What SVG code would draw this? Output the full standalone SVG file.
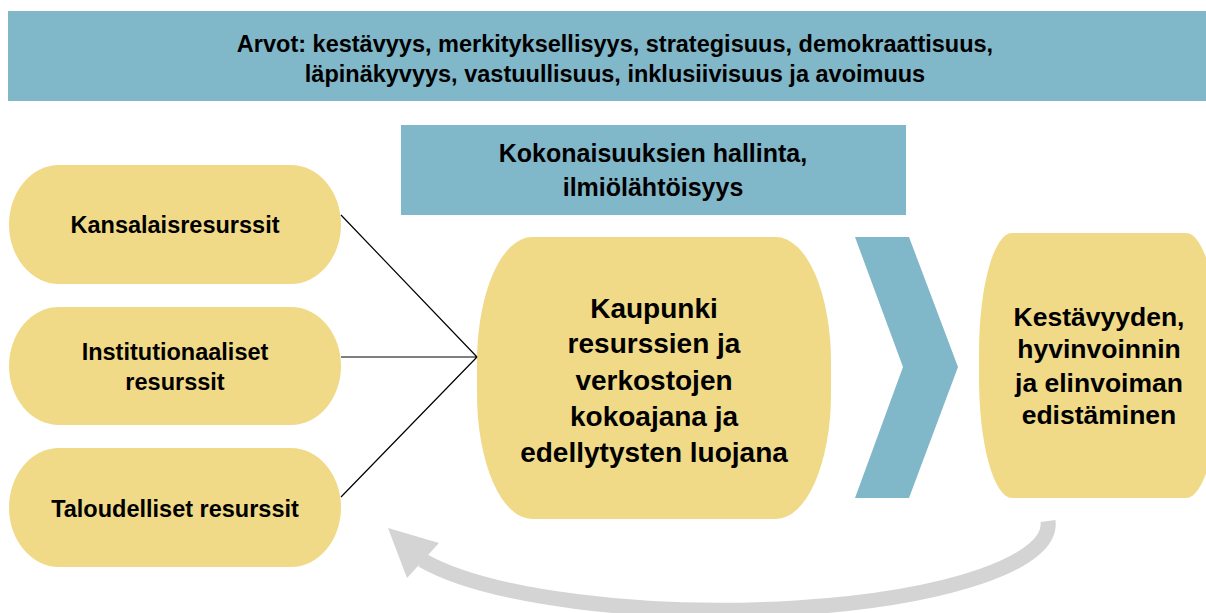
<svg xmlns="http://www.w3.org/2000/svg" width="1206" height="613" viewBox="0 0 1206 613">
<style>
text{font-family:"Liberation Sans",Arial,sans-serif;font-weight:bold;fill:#000;text-anchor:middle}
.blue{fill:#80b7c9}
.yel{fill:#f0da88}
.conn{stroke:#000;stroke-width:1.2;fill:none}
.t23{font-size:23.5px}
.t24{font-size:23.5px}
.t25{font-size:25px}
.t26{font-size:26.5px}
.t28{font-size:28px}
</style>
<rect width="1206" height="613" fill="#fff"/>
<g id="values">
<rect class="blue" x="8" y="11" width="1198" height="90"/>
<text class="t24" x="615" y="52">Arvot: kestävyys, merkityksellisyys, strategisuus, demokraattisuus,</text>
<text class="t24" x="615" y="82">läpinäkyvyys, vastuullisuus, inklusiivisuus ja avoimuus</text>
</g>
<g id="kokonaisuudet">
<rect class="blue" x="401" y="125" width="505" height="90"/>
<text class="t25" x="653" y="162">Kokonaisuuksien hallinta,</text>
<text class="t25" x="653" y="196">ilmiölähtöisyys</text>
</g>
<g id="kansalais">
<rect class="yel" x="9" y="165" width="332" height="119" rx="50" ry="59.5"/>
<text class="t23" x="175" y="233">Kansalaisresurssit</text>
</g>
<g id="institutionaaliset">
<rect class="yel" x="9" y="307" width="332" height="118" rx="50" ry="59"/>
<text class="t23" x="175" y="360">Institutionaaliset</text>
<text class="t23" x="175" y="390">resurssit</text>
</g>
<g id="taloudelliset">
<rect class="yel" x="9" y="448" width="332" height="119" rx="50" ry="59.5"/>
<text class="t23" x="175" y="517">Taloudelliset resurssit</text>
</g>
<g id="kaupunki">
<rect class="yel" x="477" y="237" width="354" height="282" rx="55" ry="125"/>
<text class="t28" x="654" y="318">Kaupunki</text>
<text class="t28" x="654" y="353">resurssien ja</text>
<text class="t28" x="654" y="390">verkostojen</text>
<text class="t28" x="654" y="426">kokoajana ja</text>
<text class="t28" x="654" y="462">edellytysten luojana</text>
</g>
<g id="chevron">
<polygon class="blue" points="855,237 909,237 958,367 909,498 855,498 903,367"/>
</g>
<g id="tulos">
<rect class="yel" x="979" y="233" width="240" height="265" rx="33" ry="120"/>
<text class="t26" x="1099" y="326">Kestävyyden,</text>
<text class="t26" x="1099" y="358">hyvinvoinnin</text>
<text class="t26" x="1099" y="392">ja elinvoiman</text>
<text class="t26" x="1099" y="424">edistäminen</text>
</g>
<g id="connectors">
<path class="conn" d="M341 215 L477 357 M341 357 L477 357 M341 497 L477 357"/>
<path d="M1048 521 A328 86 0 0 1 422 560" fill="none" stroke="#d4d4d4" stroke-width="15"/>
<polygon points="388,528 439,543 407,578" fill="#d4d4d4"/>
</g>
</svg>
